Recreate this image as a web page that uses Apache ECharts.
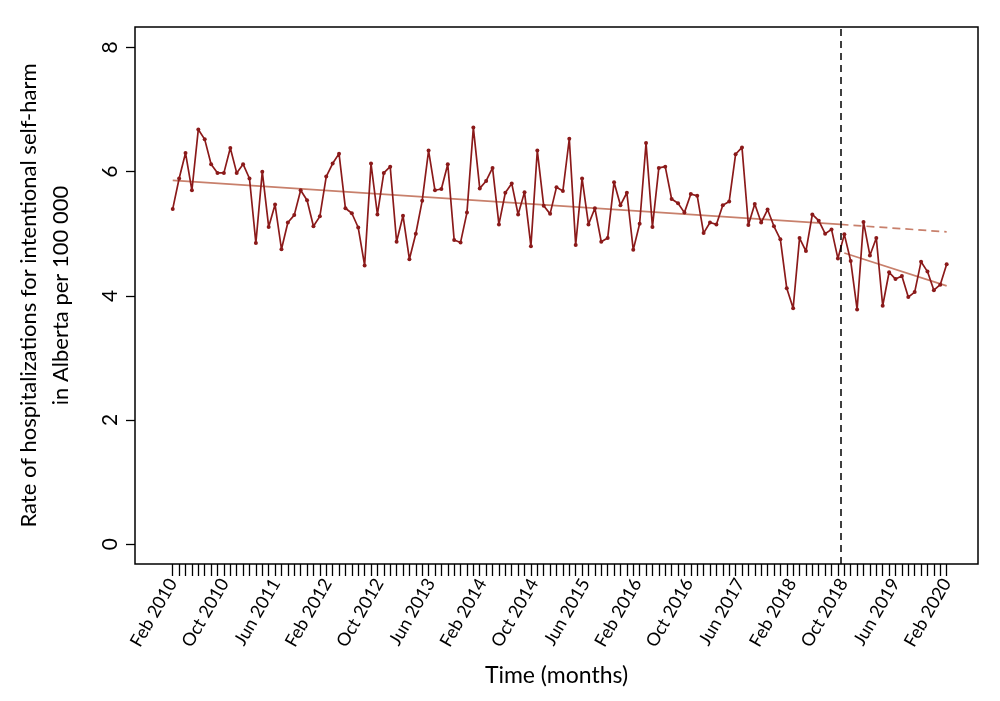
<!DOCTYPE html>
<html>
<head>
<meta charset="utf-8">
<script src="https://cdn.jsdelivr.net/npm/echarts@6/dist/echarts.min.js"></script>
<style>
    html, body { margin: 0; padding: 0; background: #fff; }
    #main { width: 1000px; height: 701px; }
</style>
</head>
<body>
<div id="main"></div>
<script>
// monthly rates, Feb 2010 .. Feb 2020 (122 points)
var rates = [
    5.40, 5.89, 6.30, 5.70, 6.68, 6.52, 6.12, 5.98, 5.98, 6.38,
    5.98, 6.12, 5.89, 4.85, 6.00, 5.11, 5.47, 4.75, 5.18, 5.30,
    5.70, 5.54, 5.12, 5.28, 5.92, 6.13, 6.29, 5.41, 5.33, 5.10,
    4.49, 6.13, 5.31, 5.98, 6.08, 4.87, 5.29, 4.59, 5.00, 5.53,
    6.34, 5.70, 5.72, 6.12, 4.90, 4.86, 5.34, 6.71, 5.73, 5.85,
    6.06, 5.15, 5.66, 5.81, 5.31, 5.67, 4.80, 6.34, 5.45, 5.32,
    5.75, 5.69, 6.53, 4.82, 5.89, 5.15, 5.41, 4.87, 4.93, 5.83,
    5.46, 5.66, 4.74, 5.16, 6.46, 5.11, 6.06, 6.08, 5.56, 5.49,
    5.34, 5.64, 5.61, 5.01, 5.18, 5.15, 5.46, 5.52, 6.28, 6.39,
    5.14, 5.48, 5.18, 5.39, 5.12, 4.91, 4.12, 3.80, 4.93, 4.72,
    5.31, 5.21, 5.00, 5.07, 4.60, 4.99, 4.56, 3.78, 5.19, 4.65,
    4.93, 3.84, 4.38, 4.27, 4.32, 3.98, 4.06, 4.55, 4.39, 4.09,
    4.18, 4.51
];

var xLabels = ['Feb 2010', 'Oct 2010', 'Jun 2011', 'Feb 2012', 'Oct 2012', 'Jun 2013',
    'Feb 2014', 'Oct 2014', 'Jun 2015', 'Feb 2016', 'Oct 2016', 'Jun 2017',
    'Feb 2018', 'Oct 2018', 'Jun 2019', 'Feb 2020'];
var yTicks = [0, 2, 4, 6, 8];

// segmented regression lines (end points only)
var preTrend = [[0, 5.86], [104.4, 5.15]];
var counterfactual = [[104.4, 5.15], [121, 5.03]];
var postTrend = [[105, 4.69], [121, 4.16]];
var intervention = 104.4;

var FONT = 'Lato, Roboto, sans-serif';

var lastIdx = rates.length - 1;
var step = lastIdx / (xLabels.length - 1);
var labelPos = [];
for (var i = 0; i < xLabels.length; i++) { labelPos.push(i * step); }
var monthTicks = [];
for (var m = 0; m <= lastIdx; m++) { monthTicks.push(m); }

var points = [];
for (var k = 0; k < rates.length; k++) { points.push([k, rates[k]]); }

var myChart = echarts.init(document.getElementById('main'));

var option = {
    backgroundColor: '#fff',
    animation: false,
    grid: {
        left: 135, right: 22, top: 27, bottom: 137,
        outerBoundsMode: 'none',
        containLabel: false,
        show: true, borderColor: '#000', borderWidth: 1.5,
        backgroundColor: 'transparent'
    },
    xAxis: {
        type: 'value',
        min: -5.9,
        max: 125.9,
        axisLine: { show: false, onZero: false },
        splitLine: { show: false },
        axisTick: {
            show: true, length: 12, customValues: monthTicks,
            lineStyle: { color: '#000', width: 1.3 }
        },
        axisLabel: {
            customValues: labelPos,
            rotate: 60,
            margin: 16,
            fontSize: 18,
            fontFamily: FONT,
            color: '#000',
            formatter: function(v) {
                return xLabels[Math.round(v / step)];
            }
        },
        name: 'Time (months)',
        nameLocation: 'middle',
        nameGap: 100,
        nameTextStyle: { fontSize: 23, fontFamily: FONT, color: '#000' }
    },
    yAxis: {
        type: 'value',
        min: -0.32,
        max: 8.33,
        axisLine: { show: false, onZero: false },
        splitLine: { show: false },
        axisTick: {
            show: true, length: 9, customValues: yTicks,
            lineStyle: { color: '#000', width: 1.3 }
        },
        axisLabel: {
            customValues: yTicks,
            rotate: 90,
            margin: 14,
            fontSize: 21,
            fontFamily: FONT,
            color: '#000'
        },
        name: 'Rate of hospitalizations for intentional self-harm\nin Alberta per 100 000',
        nameLocation: 'middle',
        nameRotate: 90,
        nameGap: 58,
        nameTextStyle: { fontSize: 22, fontFamily: FONT, color: '#000', lineHeight: 32 }
    },
    series: [
        {
            type: 'line', data: preTrend, symbol: 'none', silent: true,
            lineStyle: { color: '#c8806c', width: 1.7 }
        },
        {
            type: 'line', data: counterfactual, symbol: 'none', silent: true,
            lineStyle: { color: '#c8806c', width: 1.7, type: [8, 5] }
        },
        {
            type: 'line', data: postTrend, symbol: 'none', silent: true,
            lineStyle: { color: '#c8806c', width: 1.7 }
        },
        {
            type: 'line',
            data: points,
            symbol: 'circle',
            symbolSize: 4,
            itemStyle: { color: '#8b1a1a' },
            lineStyle: { color: '#8b1a1a', width: 1.7 },
            markLine: {
                silent: true,
                symbol: 'none',
                label: { show: false },
                lineStyle: { color: '#000', width: 1.5, type: [7, 5] },
                data: [{ xAxis: intervention }]
            }
        }
    ]
};

myChart.setOption(option);
</script>
</body>
</html>
